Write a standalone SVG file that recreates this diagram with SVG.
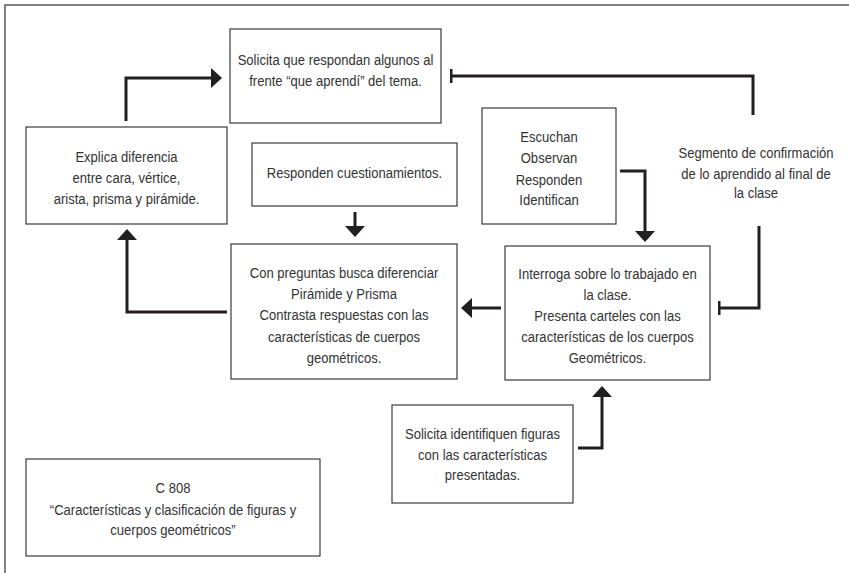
<svg xmlns="http://www.w3.org/2000/svg" width="849" height="573" viewBox="0 0 849 573">
<style>
.box{fill:#fff;stroke:#3a3a3a;stroke-width:1.2}
.t{font-family:"Liberation Sans",Arial,sans-serif;font-size:15px;fill:#333;text-anchor:middle}
.c{fill:none;stroke:#231f20;stroke-width:3;stroke-linejoin:miter}
.frame{fill:none;stroke:#555;stroke-width:1.5}
</style>
<defs>
<marker id="arr" viewBox="0 0 11 20" refX="0" refY="10" markerWidth="11" markerHeight="20" markerUnits="userSpaceOnUse" orient="auto">
<path d="M0,0 L11,10 L0,20 Z" fill="#231f20"/>
</marker>
<marker id="tee" viewBox="0 0 3 14" refX="1.5" refY="7" markerWidth="3" markerHeight="14" markerUnits="userSpaceOnUse" orient="auto">
<rect x="0" y="0" width="3" height="14" fill="#231f20"/>
</marker>
</defs>
<rect width="849" height="573" fill="#fff"/>
<path class="frame" d="M5,573 V5 H849"/>
<g id="connectors">
<path class="c" d="M126,121 V78 H211" marker-end="url(#arr)"/>
<path class="c" d="M227,312 H127 V240" marker-end="url(#arr)"/>
<path class="c" d="M355,212 V226" marker-end="url(#arr)"/>
<path class="c" d="M620,171 H645 V231" marker-end="url(#arr)"/>
<path class="c" d="M753,115 V76 H451" marker-end="url(#tee)"/>
<path class="c" d="M759,226 V308 H719" marker-end="url(#tee)"/>
<path class="c" d="M501,308 H472" marker-end="url(#arr)"/>
<path class="c" d="M578,448 H602 V397" marker-end="url(#arr)"/>
</g>
<g id="n-solicita">
<rect class="box" x="230" y="29" width="211" height="94"/>
<text class="t" transform="translate(335.5 65) scale(0.87 1)">Solicita que respondan algunos al</text>
<text class="t" transform="translate(335.5 86) scale(0.87 1)">frente “que aprendí” del tema.</text>
</g>
<g id="n-explica">
<rect class="box" x="26" y="127" width="201" height="97"/>
<text class="t" transform="translate(126.5 162) scale(0.87 1)">Explica diferencia</text>
<text class="t" transform="translate(126.5 183) scale(0.87 1)">entre cara, vértice,</text>
<text class="t" transform="translate(126.5 204) scale(0.87 1)">arista, prisma y pirámide.</text>
</g>
<g id="n-responden">
<rect class="box" x="252" y="143" width="205" height="63"/>
<text class="t" transform="translate(354.5 178) scale(0.87 1)">Responden cuestionamientos.</text>
</g>
<g id="n-escuchan">
<rect class="box" x="482" y="108" width="134" height="116"/>
<text class="t" transform="translate(549 142) scale(0.87 1)">Escuchan</text>
<text class="t" transform="translate(549 163) scale(0.87 1)">Observan</text>
<text class="t" transform="translate(549 185) scale(0.87 1)">Responden</text>
<text class="t" transform="translate(549 205) scale(0.87 1)">Identifican</text>
</g>
<g id="n-segmento">
<text class="t" transform="translate(756 158) scale(0.87 1)">Segmento de confirmación</text>
<text class="t" transform="translate(756 179) scale(0.87 1)">de lo aprendido al final de</text>
<text class="t" transform="translate(756 198) scale(0.87 1)">la clase</text>
</g>
<g id="n-conpreguntas">
<rect class="box" x="231" y="244" width="226" height="135"/>
<text class="t" transform="translate(344 278) scale(0.87 1)">Con preguntas busca diferenciar</text>
<text class="t" transform="translate(344 299) scale(0.87 1)">Pirámide y Prisma</text>
<text class="t" transform="translate(344 320) scale(0.87 1)">Contrasta respuestas con las</text>
<text class="t" transform="translate(344 342) scale(0.87 1)">características de cuerpos</text>
<text class="t" transform="translate(344 363) scale(0.87 1)">geométricos.</text>
</g>
<g id="n-interroga">
<rect class="box" x="505" y="246" width="205" height="134"/>
<text class="t" transform="translate(607.5 279) scale(0.87 1)">Interroga sobre lo trabajado en</text>
<text class="t" transform="translate(607.5 300) scale(0.87 1)">la clase.</text>
<text class="t" transform="translate(607.5 321) scale(0.87 1)">Presenta carteles con las</text>
<text class="t" transform="translate(607.5 342) scale(0.87 1)">características de los cuerpos</text>
<text class="t" transform="translate(607.5 363) scale(0.87 1)">Geométricos.</text>
</g>
<g id="n-identifiquen">
<rect class="box" x="392" y="405" width="181" height="98"/>
<text class="t" transform="translate(482.5 439) scale(0.87 1)">Solicita identifiquen figuras</text>
<text class="t" transform="translate(482.5 460) scale(0.87 1)">con las características</text>
<text class="t" transform="translate(482.5 480) scale(0.87 1)">presentadas.</text>
</g>
<g id="n-c808">
<rect class="box" x="26" y="459" width="294" height="97"/>
<text class="t" transform="translate(173 493) scale(0.87 1)">C 808</text>
<text class="t" transform="translate(173 515) scale(0.87 1)">“Características y clasificación de figuras y</text>
<text class="t" transform="translate(173 535) scale(0.87 1)">cuerpos geométricos”</text>
</g>
</svg>
